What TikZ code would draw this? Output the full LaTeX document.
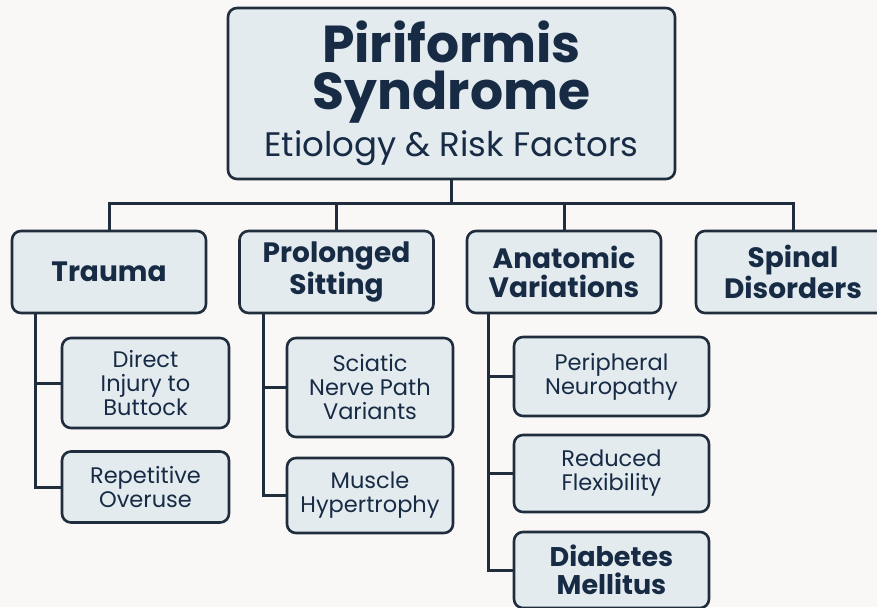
\documentclass[tikz,border=0pt]{standalone}
\usepackage{fontspec}
\setmainfont{Poppins}
\usetikzlibrary{positioning,calc}
\definecolor{pageback}{HTML}{FAF8F6}
\definecolor{boxfill}{HTML}{E3EBEF}
\definecolor{boxline}{HTML}{1F2D3D}
\definecolor{ink}{HTML}{172B45}
\tikzset{
	x=1pt, y=-1pt, % coordinates are read as pixels of the reference, y downwards
	box/.style = {draw=boxline, line width=2.6pt, fill=boxfill, rounded corners=9pt, align=center, text=ink, inner sep=0pt},
	head/.style = {box, minimum width=194pt, minimum height=82pt, font=\bfseries\fontsize{28}{29}\selectfont},
	leaf/.style = {box, font=\fontsize{22.5}{24}\selectfont}, % the small boxes hanging under each cause
	link/.style = {draw=boxline, line width=3pt}
}

\begin{document}
\begin{tikzpicture}
            \fill[pageback] (0,0) rectangle (877,607);
            \useasboundingbox (0,0) rectangle (877,607);
            % top box
            \node[box, minimum width=447pt, minimum height=171pt, font=\bfseries\fontsize{52}{47}\selectfont] (root) at (451.5,93.5)
                {\rule{0pt}{42pt}Piriformis\\Syndrome\\[0pt]\mdseries\fontsize{34}{34}\selectfont Etiology \& Risk Factors};
            % causes
            \node[head] (trauma) at (109,272) {Trauma};
            \node[head] (sitting) at (336.5,272) {Prolonged\\Sitting};
            \node[head] (anatomic) at (564,272) {Anatomic\\Variations};
            \node[head] (spinal) at (793,272) {Spinal\\Disorders};
            % factors under each cause
            \node[leaf, minimum width=167pt, minimum height=90pt] (injury) at (145.5,383) {Direct\\Injury to\\Buttock};
            \node[leaf, minimum width=167pt, minimum height=71pt] (overuse) at (145.5,487) {Repetitive\\Overuse};
            \node[leaf, minimum width=166pt, minimum height=99pt] (sciatic) at (370,387.5) {Sciatic\\Nerve Path\\Variants};
            \node[leaf, minimum width=166pt, minimum height=75pt] (hyper) at (370,495.5) {Muscle\\Hypertrophy};
            \node[leaf, minimum width=195pt, minimum height=79pt] (neuro) at (611.5,376.5) {Peripheral\\Neuropathy};
            \node[leaf, minimum width=195pt, minimum height=77pt] (flex) at (611.5,473.5) {Reduced\\Flexibility};
            \node[leaf, minimum width=195pt, minimum height=76pt, font=\bfseries\fontsize{27}{28}\selectfont] (diab) at (611.5,570) {Diabetes\\Mellitus};
            % connectors
            \coordinate (bar) at (451.5,203);
            \coordinate (tspine) at (35,0);
            \coordinate (sspine) at (263,0);
            \coordinate (aspine) at (488,0);
            \draw[link] (root.south) -- (bar);
            \draw[link] (trauma.north) |- (bar) -| (spinal.north);
            \draw[link] (sitting.north) -- (sitting.north|-bar);
            \draw[link] (anatomic.north) -- (anatomic.north|-bar);
            \draw[link] (tspine|-trauma.south) |- (overuse.west);
            \draw[link] (tspine|-injury.west) -- (injury.west);
            \draw[link] (sspine|-sitting.south) |- (hyper.west);
            \draw[link] (sspine|-sciatic.west) -- (sciatic.west);
            \draw[link] (aspine|-anatomic.south) |- (diab.west);
            \draw[link] (aspine|-neuro.west) -- (neuro.west);
            \draw[link] (aspine|-flex.west) -- (flex.west);
        \end{tikzpicture}
\end{document}
